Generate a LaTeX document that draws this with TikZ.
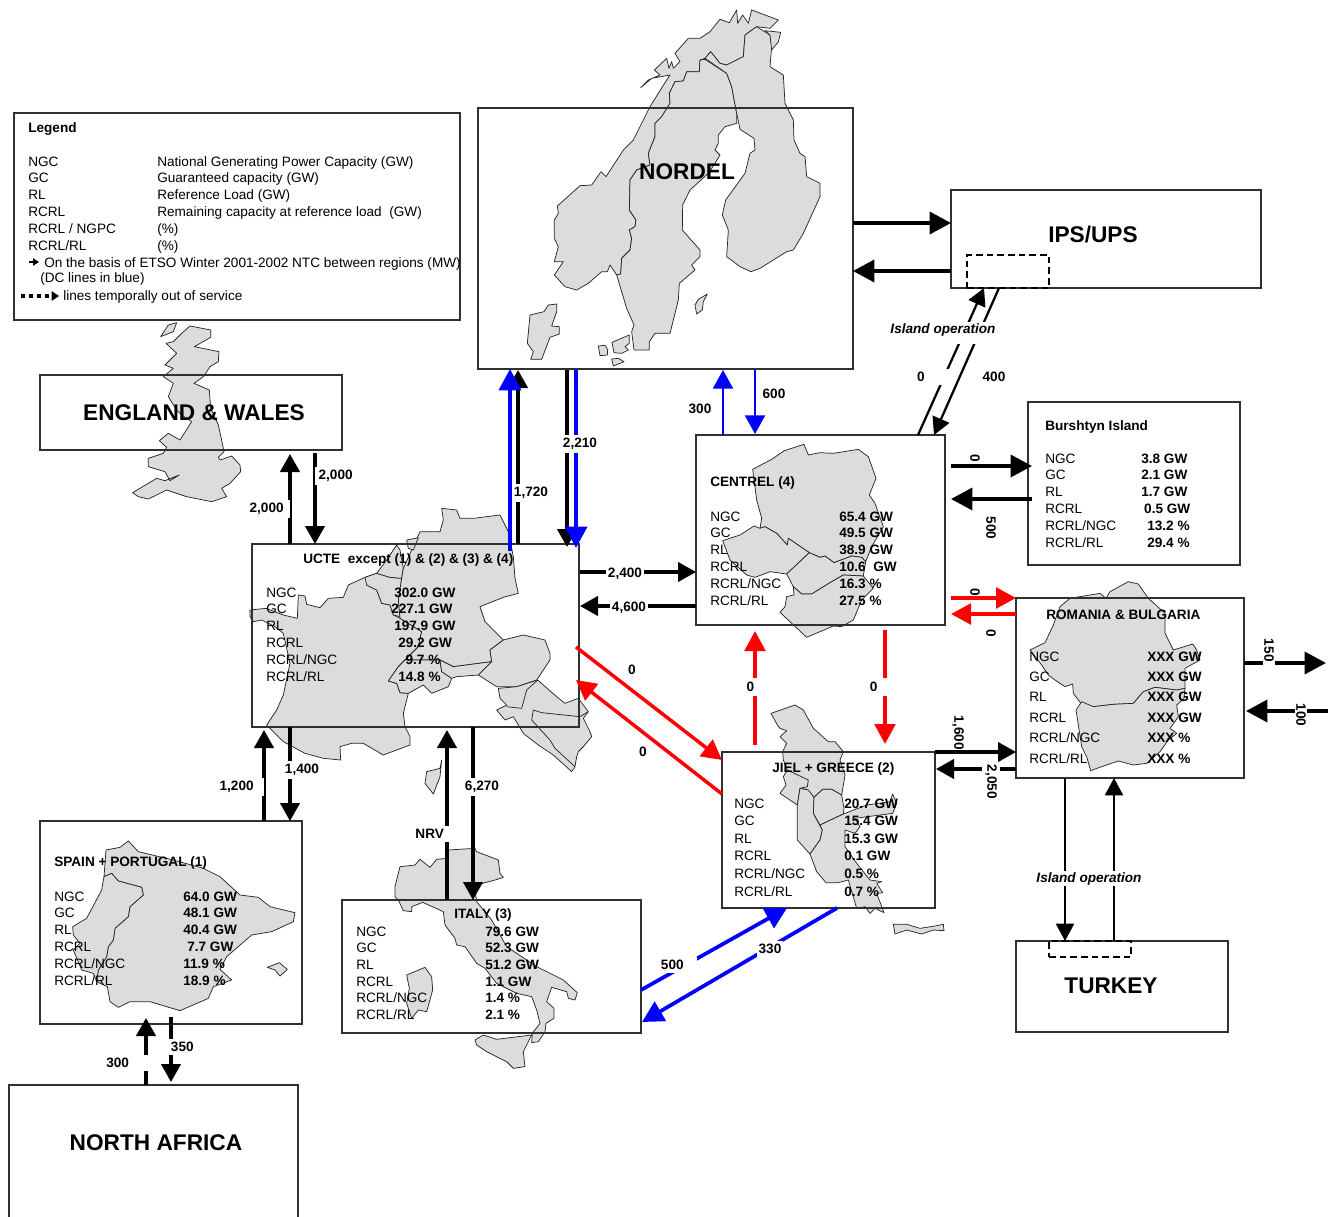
\documentclass[tikz,border=0pt]{standalone}
\usepackage{fontspec}
\setmainfont{Liberation Sans}
\usetikzlibrary{arrows.meta,fit}
\definecolor{landgray}{HTML}{DCDCDC}
\definecolor{boxline}{HTML}{303030}
\definecolor{netblue}{HTML}{0000FF}
\definecolor{netred}{HTML}{FF0000}
\tikzset{
  zm/.style 2 args={shift={(#1,#2)},x=0.25pt,y=-0.25pt},
  land/.style={fill=landgray,draw=black!85,line width=0.55pt,line join=round},
  border/.style={draw=black!85,line width=0.55pt,line join=round},
  regionbox/.style={draw=boxline,line width=0.9pt,inner sep=0pt,fill=none},
  dashbox/.style={draw=black,line width=1.3pt,dash pattern=on 5pt off 3pt},
  txt/.style={anchor=base west,inner sep=0pt,font=\fontsize{10.2}{12}\selectfont},
  btxt/.style={anchor=base west,inner sep=0pt,font=\fontsize{10.2}{12}\selectfont\bfseries},
  bigt/.style={inner sep=0pt,font=\fontsize{17}{20}\selectfont\bfseries},
  lab/.style={fill=white,inner xsep=1.5pt,inner ysep=2.5pt,font=\fontsize{10.2}{12}\selectfont\bfseries},
  island/.style={fill=white,inner xsep=0pt,inner ysep=1pt,anchor=base,font=\fontsize{10.2}{12}\selectfont\bfseries\itshape},
  conk/.style={draw=black,line width=2.4pt,-{Triangle[length=13.5pt,width=14.5pt]}},
  conkb/.style={draw=black,line width=2.6pt,-{Triangle[length=16pt,width=16.5pt]}},
  conkt/.style={draw=black,line width=1.7pt,-{Triangle[length=13pt,width=13.5pt]}},
  conb/.style={draw=netblue,line width=2.8pt,-{Triangle[length=16pt,width=16.5pt]}},
  conbt/.style={draw=netblue,line width=1.6pt,-{Triangle[length=14pt,width=15pt]}},
  conr/.style={draw=netred,line width=2.6pt,-{Triangle[length=15pt,width=15.5pt]}},
}
\newcommand{\conn}[6]{\coordinate (#2a) at (#3,#4);\coordinate (#2b) at (#5,#6);\draw[#1] (#2a) -- (#2b);}
\newcommand{\colset}[6]{\foreach \cellt [count=\ci] in {#6} {\node[#2] (#1\ci) at ({#3},{#4+(\ci-1)*#5}) {\cellt};}}
\begin{document}
\begin{tikzpicture}[x=0.75pt,y=-0.75pt]
\clip (0,0) rectangle (1336,1217);
\fill[white] (0,0) rectangle (1336,1217);

% ---------- maps ----------
\begin{scope}[zm={0}{100}]
\draw[land] (570,678)--(632,690)--(632,712)--(583,740)--(657,755)--(655,785)--(630,800)--(610,830)--(582,850)--(628,870)--(632,925)--(655,975)--(665,1020)--(672,1055)--(655,1072)--(660,1080)--(695,1068)--(720,1095)--(722,1115)--(690,1150)--(665,1165)--(680,1190)--(635,1205)--(560,1190)--(500,1170)--(470,1185)--(445,1197)--(415,1190)--(398,1178)--(470,1135)--(495,1142)--(538,1125)--(510,1142)--(495,1115)--(445,1100)--(445,1075)--(490,1060)--(500,1042)--(478,1022)--(505,1000)--(540,1020)--(575,965)--(545,945)--(530,930)--(505,890)--(520,850)--(490,830)--(520,805)--(495,795)--(530,760)--(498,730)--(520,725)--(545,700)--cycle;
\draw[land] (530,668)--(520,695)--(482,710)--(505,675)--cycle;
\end{scope}

\begin{scope}[zm={470}{0}]
\draw[land] (845,30)--(925,60)--(900,85)--(860,80)--(825,105)--(820,170)--(790,185)--(770,195)--(750,190)--(722,155)--(705,175)--(690,180)--(688,215)--(650,215)--(640,243)--(615,245)--(598,280)--(600,310)--(575,350)--(555,370)--(555,410)--(535,460)--(540,495)--(500,510)--(480,540)--(478,630)--(498,660)--(495,680)--(478,690)--(485,715)--(480,750)--(455,775)--(452,822)--(440,825)--(420,795)--(412,815)--(395,815)--(355,850)--(320,870)--(285,860)--(253,825)--(280,785)--(253,785)--(265,740)--(253,715)--(253,660)--(265,640)--(262,618)--(330,557)--(365,555)--(393,515)--(408,530)--(460,450)--(490,420)--(540,320)--(590,240)--(600,225)--(545,235)--(512,263)--(535,240)--(570,225)--(553,210)--(590,175)--(597,205)--(605,185)--(610,205)--(630,185)--(615,160)--(655,115)--(690,115)--(720,95)--(750,58)--(778,68)--(800,30)--(803,70)--(818,45)--(835,70)--cycle;
\draw[land] (705,178)--(770,220)--(785,260)--(800,340)--(800,370)--(765,380)--(745,405)--(745,430)--(735,450)--(750,465)--(735,490)--(715,520)--(660,570)--(638,615)--(637,690)--(690,750)--(690,770)--(665,795)--(675,810)--(628,850)--(625,900)--(600,1000)--(555,1000)--(538,1025)--(538,1050)--(492,1050)--(485,995)--(492,975)--(470,925)--(440,825)--(452,822)--(455,775)--(480,750)--(485,715)--(478,690)--(495,680)--(498,660)--(478,630)--(480,540)--(500,510)--(540,495)--(535,460)--(555,410)--(555,370)--(575,350)--(600,310)--(598,280)--(615,245)--(640,243)--(650,215)--(688,215)--(690,180)--cycle;
\draw[land] (705,175)--(722,155)--(750,190)--(770,195)--(790,185)--(820,170)--(825,105)--(860,80)--(900,105)--(905,140)--(900,200)--(940,225)--(945,310)--(970,360)--(972,420)--(990,460)--(1005,470)--(1010,530)--(1050,550)--(1050,590)--(1000,700)--(970,750)--(950,755)--(870,805)--(843,815)--(810,800)--(770,770)--(775,690)--(757,645)--(767,600)--(825,520)--(840,460)--(855,450)--(852,415)--(810,388)--(800,340)--(785,260)--(770,220)--cycle;
\draw[land] (885,92)--(932,97)--(925,125)--(905,150)--(900,105)--cycle;
\draw[land] (712,882)--(685,898)--(675,915)--(680,942)--(697,930)--(700,905)--cycle;
\draw[land] (260,912)--(235,915)--(222,935)--(180,945)--(172,1030)--(190,1055)--(182,1078)--(215,1078)--(240,1012)--(268,1002)--(268,980)--(245,978)--(260,935)--cycle;
\draw[land] (478,1005)--(426,1027)--(432,1058)--(455,1060)--(475,1050)--(465,1040)--(478,1030)--cycle;
\draw[land] (385,1038)--(405,1036)--(413,1048)--(412,1065)--(390,1067)--cycle;
\draw[land] (425,1077)--(445,1075)--(462,1085)--(430,1098)--cycle;
\end{scope}

\begin{scope}[zm={240}{490}]
% France
\draw[land] (30,360)--(78,355)--(130,375)--(172,385)--(175,315)--(195,318)--(200,343)--(240,353)--(265,325)--(310,322)--(325,285)--(375,262)--(410,250)--(380,285)--(410,300)--(425,340)--(450,345)--(460,375)--(480,385)--(545,425)--(535,470)--(495,510)--(475,530)--(445,573)--(470,580)--(480,608)--(505,610)--(490,670)--(495,710)--(510,740)--(510,765)--(430,795)--(370,760)--(335,760)--(300,770)--(302,810)--(250,805)--(195,790)--(130,755)--(80,705)--(110,660)--(130,615)--(150,520)--(130,430)--(105,410)--(65,390)--(40,395)--(30,380)--cycle;
% Benelux
\draw[land] (410,250)--(375,262)--(380,285)--(410,300)--(425,340)--(450,345)--(460,375)--(480,380)--(475,330)--(485,265)--(450,262)--cycle;
\draw[land] (410,250)--(440,210)--(470,165)--(480,180)--(490,235)--(485,265)--(450,262)--cycle;
% Germany
\draw[land] (540,125)--(600,125)--(610,90)--(605,55)--(650,60)--(660,85)--(700,85)--(780,75)--(805,125)--(820,200)--(825,265)--(835,310)--(790,322)--(720,350)--(735,395)--(790,450)--(750,480)--(755,515)--(640,530)--(600,510)--(495,510)--(535,470)--(545,425)--(480,385)--(475,330)--(485,265)--(490,235)--cycle;
\draw[land] (500,150)--(535,143)--(520,180)--(505,175)--cycle;
% Switzerland, Austria, Hungary
\draw[land] (495,510)--(600,510)--(605,545)--(635,565)--(625,590)--(575,610)--(550,585)--(505,610)--(480,608)--(470,580)--(445,573)--(475,530)--cycle;
\draw[land] (600,510)--(640,530)--(755,515)--(715,555)--(650,560)--(635,565)--(605,545)--cycle;
\draw[land] (750,480)--(790,450)--(850,435)--(915,450)--(930,490)--(930,510)--(890,570)--(830,590)--(770,590)--(715,555)--(755,515)--cycle;
% Balkans
\draw[land] (775,595)--(830,590)--(893,570)--(950,620)--(975,640)--(1015,625)--(1045,665)--(1030,685)--(1050,725)--(1055,740)--(1030,770)--(1015,785)--(1010,800)--(1005,830)--(995,845)--(940,795)--(895,765)--(850,730)--(820,680)--(795,690)--(770,660)--(800,645)--(780,625)--cycle;
\draw[border] (893,570)--(860,600)--(845,655)--(800,650);
\draw[border] (1045,665)--(1020,680)--(905,668)--(880,660)--(875,690)--(930,750)--(945,775)--(1005,830);
% Corsica
\draw[land] (605,810)--(600,835)--(560,845)--(555,880)--(580,912)--(600,860)--cycle;
\end{scope}

\begin{scope}[zm={680}{420}]
\draw[land] (218,148)--(230,240)--(245,295)--(240,325)--(255,320)--(290,340)--(322,375)--(325,355)--(388,398)--(420,412)--(435,408)--(462,428)--(515,408)--(545,412)--(557,425)--(575,380)--(610,320)--(585,250)--(568,225)--(588,175)--(565,110)--(535,88)--(460,100)--(420,98)--(385,105)--(372,73)--(313,92)--(275,118)--cycle;
\draw[land] (128,362)--(180,345)--(222,318)--(240,325)--(255,320)--(290,340)--(322,375)--(325,355)--(388,398)--(320,462)--(270,455)--(225,472)--(200,465)--(150,420)--cycle;
\draw[land] (388,398)--(420,412)--(435,408)--(462,428)--(515,408)--(545,412)--(557,425)--(550,468)--(490,465)--(450,488)--(395,522)--(365,522)--(340,500)--(320,462)--cycle;
\draw[land] (340,500)--(365,522)--(395,522)--(450,488)--(490,465)--(550,468)--(580,505)--(545,540)--(520,600)--(485,620)--(460,618)--(380,652)--(300,577)--(315,560)--(320,530)--(342,525)--cycle;
\end{scope}

\begin{scope}[zm={700}{690}]
\draw[land] (213,70)--(285,45)--(310,60)--(340,115)--(385,155)--(405,155)--(430,185)--(420,210)--(435,255)--(425,315)--(395,298)--(368,298)--(342,322)--(320,298)--(300,295)--(292,345)--(240,310)--(258,285)--(250,260)--(262,240)--(250,210)--(248,185)--(260,160)--(240,140)--(260,122)--(240,115)--(232,105)--cycle;
\draw[border] (262,240)--(325,270)--(322,290)--(300,295);
\draw[land] (300,295)--(325,300)--(342,322)--(340,370)--(367,420)--(360,450)--(330,492)--(292,450)--(292,345)--cycle;
\draw[land] (342,322)--(368,298)--(395,298)--(425,315)--(432,355)--(430,372)--(360,405)--(340,370)--cycle;
\draw[land] (330,492)--(360,450)--(367,420)--(360,405)--(430,372)--(500,345)--(570,335)--(578,312)--(590,340)--(578,370)--(465,385)--(480,410)--(465,430)--(435,420)--(435,470)--(470,520)--(510,570)--(545,575)--(530,580)--(548,608)--(530,610)--(552,668)--(525,655)--(510,670)--(495,650)--(470,655)--(445,570)--(415,578)--(378,578)--(350,545)--cycle;
\draw[land] (580,703)--(620,703)--(660,715)--(705,708)--(730,703)--(732,722)--(700,720)--(665,732)--(620,720)--(585,732)--cycle;
\end{scope}

\begin{scope}[zm={1000}{570}]
\draw[land] (90,240)--(135,218)--(160,165)--(180,110)--(210,85)--(300,70)--(318,85)--(330,65)--(385,35)--(415,42)--(445,85)--(495,130)--(495,190)--(520,240)--(578,222)--(590,240)--(600,270)--(555,295)--(555,355)--(530,360)--(465,352)--(430,365)--(400,400)--(340,403)--(280,410)--(245,403)--(220,370)--(218,342)--(195,350)--(165,330)--(145,315)--(125,285)--cycle;
\draw[land] (245,395)--(280,410)--(340,403)--(400,400)--(430,365)--(465,352)--(530,360)--(555,355)--(552,385)--(530,405)--(535,440)--(510,475)--(530,490)--(505,510)--(480,545)--(440,580)--(400,585)--(355,573)--(305,590)--(272,602)--(260,560)--(245,530)--(228,420)--cycle;
\end{scope}

\begin{scope}[zm={330}{750}]
\draw[land] (210,350)--(255,345)--(270,328)--(300,352)--(320,328)--(352,325)--(355,300)--(435,295)--(440,305)--(505,330)--(510,370)--(520,382)--(495,390)--(450,402)--(435,420)--(440,455)--(485,510)--(530,590)--(620,650)--(700,690)--(742,728)--(735,750)--(715,745)--(710,725)--(665,712)--(650,755)--(672,775)--(672,805)--(648,820)--(645,845)--(625,875)--(605,878)--(607,850)--(630,820)--(620,780)--(605,740)--(560,730)--(500,700)--(465,655)--(440,640)--(405,590)--(380,585)--(375,565)--(345,525)--(340,485)--(278,457)--(245,470)--(245,485)--(220,482)--(205,450)--(195,440)--(195,410)--cycle;
\draw[land] (230,675)--(285,652)--(305,680)--(308,720)--(290,785)--(265,780)--(245,805)--(230,760)--(238,715)--cycle;
\draw[land] (435,870)--(460,855)--(500,868)--(605,855)--(580,905)--(585,950)--(550,955)--(530,935)--(470,905)--(440,885)--cycle;
\end{scope}

\begin{scope}[zm={30}{810}]
\draw[land] (228,120)--(270,112)--(295,93)--(325,125)--(430,150)--(520,175)--(570,200)--(630,255)--(685,262)--(720,290)--(795,308)--(790,335)--(725,365)--(665,375)--(590,440)--(570,478)--(605,510)--(550,530)--(535,565)--(450,602)--(360,575)--(300,575)--(265,592)--(240,575)--(232,530)--(200,515)--(205,480)--(230,440)--(235,410)--(250,390)--(255,355)--(295,320)--(300,290)--(340,255)--(335,232)--(265,213)--(245,190)--(222,200)--cycle;
\draw[land] (222,200)--(245,190)--(265,213)--(335,232)--(340,255)--(300,290)--(295,320)--(255,355)--(250,390)--(235,410)--(230,440)--(205,480)--(200,515)--(190,490)--(155,480)--(130,420)--(150,400)--(130,375)--(128,350)--(170,325)--(215,240)--cycle;
\draw[land] (712,472)--(748,458)--(772,478)--(750,498)--(735,480)--cycle;
\end{scope}

% ---------- boxes ----------
\node[regionbox,fit={(14,113)(460,320)}] (legend) {};
\node[regionbox,fit={(40,375)(342,450)}] (england) {};
\node[regionbox,fit={(478,108)(853,369)}] (nordel) {};
\node[regionbox,fit={(951,190)(1261,288)}] (ips) {};
\node[regionbox,fit={(1028,402)(1240,565)}] (burshtyn) {};
\node[regionbox,fit={(696,435)(945,625)}] (centrel) {};
\node[regionbox,fit={(252,544)(579,727)}] (ucte) {};
\node[regionbox,fit={(1016,598)(1244,778)}] (romania) {};
\node[regionbox,fit={(722,752)(935,908)}] (jiel) {};
\node[regionbox,fit={(40,821)(302,1024)}] (spain) {};
\node[regionbox,fit={(342,900)(641,1033)}] (italy) {};
\node[regionbox,fit={(9,1085)(298,1230)}] (nafrica) {};
\node[regionbox,fit={(1016,941)(1228,1032)}] (turkey) {};
\node[dashbox,inner sep=0pt,fit={(967,255)(1049,288)}] (ipsdash) {};
\node[dashbox,inner sep=0pt,fit={(1049,941)(1131,957)}] (turkeydash) {};

% ---------- big titles ----------
\node[bigt] (tengland) at (194,413) {ENGLAND \& WALES};
\node[bigt] (tnordel) at (687,172) {NORDEL};
\node[bigt] (tips) at (1093,235) {IPS/UPS};
\node[bigt] (tturkey) at (1111,986) {TURKEY};
\node[bigt] (tnafrica) at (156,1143) {NORTH AFRICA};

% ---------- legend ----------
\node[btxt] (legtitle) at (28,132) {Legend};
\colset{legl}{txt}{28}{166}{16.8}{NGC,GC,RL,RCRL,RCRL / NGPC,RCRL/RL}
\colset{legr}{txt}{157}{166}{16.8}{National Generating Power Capacity (GW),Guaranteed capacity (GW),Reference Load (GW),Remaining capacity at reference load\ \ (GW),(\%),(\%)}
\node[txt] (legntc) at (44,267) {On the basis of ETSO Winter 2001-2002 NTC between regions (MW)};
\node[txt] (legdc) at (40,282) {(DC lines in blue)};
\node[txt] (legout) at (63,300) {lines temporally out of service};
\conn{draw=black,line width=1pt,-{Triangle[length=4.5pt,width=5.5pt]}}{legar}{29}{262}{39}{262}
\conn{draw=black,line width=2.4pt,dash pattern=on 3.2pt off 2.8pt,-{Triangle[length=5.5pt,width=7pt]}}{legdash}{21}{296}{59}{296}

% ---------- region tables ----------
\node[btxt] (tburshtyn) at (1045,430) {Burshtyn Island};
\colset{bl}{txt}{1045}{463}{16.8}{NGC,GC,RL,RCRL,RCRL/NGC,RCRL/RL}
\colset{br}{btxt}{1141}{463}{16.8}{3.8 GW,2.1 GW,1.7 GW,\kern2.2pt 0.5 GW,\kern4.5pt 13.2 \%,\kern4.5pt 29.4 \%}

\node[btxt] (tcentrel) at (710,486) {CENTREL (4)};
\colset{cl}{txt}{710}{521}{16.8}{NGC,GC,RL,RCRL,RCRL/NGC,RCRL/RL}
\colset{cr}{btxt}{839}{521}{16.8}{65.4 GW,49.5 GW,38.9 GW,10.6\ \ GW,16.3 \%,27.5 \%}

\node[btxt] (tucte) at (303,563) {UCTE\ \ except (1) \& (2) \& (3) \& (4)};
\colset{ul}{txt}{266}{597}{16.8}{NGC,GC,RL,RCRL,RCRL/NGC,RCRL/RL}
\colset{ur}{btxt}{394}{597}{16.8}{302.0 GW,\kern-2.2pt 227.1 GW,197.9 GW,\kern3pt 29.2 GW,\kern8.5pt 9.7 \%,\kern3pt 14.8 \%}

\node[btxt] (tromania) at (1046,619) {ROMANIA \& BULGARIA};
\colset{rl}{txt}{1029}{661}{20.4}{NGC,GC,RL,RCRL,RCRL/NGC,RCRL/RL}
\colset{rr}{btxt}{1147}{661}{20.4}{XXX GW,XXX GW,XXX GW,XXX GW,XXX \%,XXX \%}

\node[btxt] (tjiel) at (772,772) {JIEL + GREECE (2)};
\colset{jl}{txt}{734}{808}{17.6}{NGC,GC,RL,RCRL,RCRL/NGC,RCRL/RL}
\colset{jr}{btxt}{844}{808}{17.6}{20.7 GW,15.4 GW,15.3 GW,0.1 GW,0.5 \%,0.7 \%}

\node[btxt] (tspain) at (54,866) {SPAIN + PORTUGAL (1)};
\colset{sl}{txt}{54}{901}{16.8}{NGC,GC,RL,RCRL,RCRL/NGC,RCRL/RL}
\colset{sr}{btxt}{183}{901}{16.8}{64.0 GW,48.1 GW,40.4 GW,\kern3pt 7.7 GW,11.9 \%,18.9 \%}

\node[btxt] (titaly) at (454,918) {ITALY (3)};
\colset{il}{txt}{356}{936}{16.7}{NGC,GC,RL,RCRL,RCRL/NGC,RCRL/RL}
\colset{ir}{btxt}{485}{936}{16.7}{79.6 GW,52.3 GW,51.2 GW,1.1 GW,1.4 \%,2.1 \%}

% ---------- black connectors ----------
\conn{conkb}{nordips}{853}{223}{951}{223}
\conn{conkb}{ipsnord}{951}{271}{853}{271}
\conn{conkt}{centips}{918}{435}{984}{288}
\conn{conkt}{ipscent}{999}{288}{934}{435}
\conn{conk}{engup}{290}{544}{290}{454}
\conn{conk}{engdown}{315}{453}{315}{544}
\conn{conk}{ucnord}{518}{544}{518}{370}
\conn{conk}{norduc}{567}{370}{567}{547}
\conn{conk}{uccent}{580}{572}{696}{572}
\conn{conk}{centuc}{696}{606}{580}{606}
\conn{conkb}{centbur}{951}{466}{1032}{466}
\conn{conkb}{burcent}{1032}{499}{951}{499}
\conn{conk}{jielrom}{935}{752}{1016}{752}
\conn{conk}{romjiel}{1016}{769}{936}{769}
\conn{conkb}{romout}{1244}{663}{1326}{663}
\conn{conkb}{romin}{1328}{711}{1246}{711}
\conn{conkt}{romtur}{1065}{778}{1065}{941}
\conn{conkt}{turrom}{1114}{941}{1114}{778}
\conn{conk}{spainup}{264}{821}{264}{730}
\conn{conk}{spaindown}{290}{727}{290}{821}
\conn{conk}{italyup}{447}{900}{447}{730}
\conn{conk}{italydown}{473}{727}{473}{900}
\conn{conk}{afup}{146}{1085}{146}{1018}
\conn{conk}{afdown}{171}{1017}{171}{1082}

% ---------- red connectors ----------
\conn{conr}{ucjiel}{576}{647}{722}{760}
\conn{conr}{jieluc}{722}{794}{576}{680}
\conn{conr}{jielcent}{755}{745}{755}{631}
\conn{conr}{centjiel}{885}{630}{885}{744}
\conn{conr}{centrom}{951}{598}{1016}{598}
\conn{conr}{romcent}{1016}{614}{951}{614}

% ---------- blue lines not under the 1,720 label ----------
\conn{conb}{norduc2}{576}{370}{576}{548}
\conn{conbt}{centnord}{723}{435}{723}{370}
\conn{conbt}{nordcent}{755}{370}{755}{434}
\conn{conb}{italyjiel}{641}{990}{787}{908}
\conn{conb}{jielitaly}{837}{908}{642}{1022}

% ---------- labels ----------
\node[lab,inner xsep=0pt] (l2000a) at (270,509) {2,000\hspace*{5pt}};
\node[lab] (l2000b) at (335,476) {\hspace*{1pt}2,000};
\node[lab] (l1720) at (529,493) {\hspace*{3pt}1,720};
\node[lab] (l2210) at (580,444) {2,210};
\node[lab,fill=none] (l300n) at (700,409) {300};
\node[lab,fill=none] (l600) at (774,394) {600};
\node[lab] (l2400) at (625,574) {2,400};
\node[lab] (l4600) at (629,608) {4,600};
\node[lab] (l1400) at (302,770) {1,400};
\node[lab,inner xsep=0pt] (l1200) at (242,787) {1,200\hspace*{8pt}};
\node[lab,inner xsep=0pt] (lnrv) at (433,834) {NRV\hspace*{5pt}};
\node[lab] (l6270) at (482,787) {6,270};
\node[lab,inner xsep=0pt] (l300s) at (127,1063) {300\hspace*{14pt}};
\node[lab,inner xsep=0pt] (l350) at (181,1047) {\hspace*{2pt}350};
\node[lab,inner xsep=0pt] (l500s) at (679,965) {500\hspace*{10pt}};
\node[lab] (l330) at (770,949) {330};
\node[lab,inner xsep=0pt] (l0a) at (933,377) {0\hspace*{18pt}};
\node[lab,fill=none] (l400) at (994,377) {400};
\node[island,text depth=7pt] (lisl1) at (943,333) {Island operation};
\node[island] (lisl2) at (1089,882) {Island operation};
\node[lab,rotate=-90,fill=none] (l0b) at (975,458) {0};
\node[lab,rotate=-90,fill=none] (l500b) at (991,528) {500};
\node[lab,rotate=-90,fill=none] (l0c) at (975,592) {0};
\node[lab,rotate=-90,fill=none] (l0d) at (991,633) {0};
\node[lab,rotate=-90,fill=none] (l1600) at (958,733) {1,600};
\node[lab,rotate=-90] (l2050) at (991,782) {2,050};
\node[lab,rotate=-90,inner ysep=1pt,inner xsep=0pt] (l150) at (1269,655) {150\hspace*{7pt}};
\node[lab,rotate=-90,inner ysep=1pt,inner xsep=0pt] (l100) at (1301,711.5) {\hspace*{5pt}100};
\node[lab,fill=none] (l0e) at (632,670) {0};
\node[lab,fill=none] (l0f) at (643,752) {0};
\node[lab,inner ysep=3pt] (l0g) at (755,687) {0\hspace*{7pt}};
\node[lab,inner ysep=3pt] (l0h) at (879,687) {0\hspace*{8pt}};

% ---------- blue up line, over the 1,720 label ----------
\conn{conb}{ucnord2}{510}{551}{510}{369}
\end{tikzpicture}
\end{document}
